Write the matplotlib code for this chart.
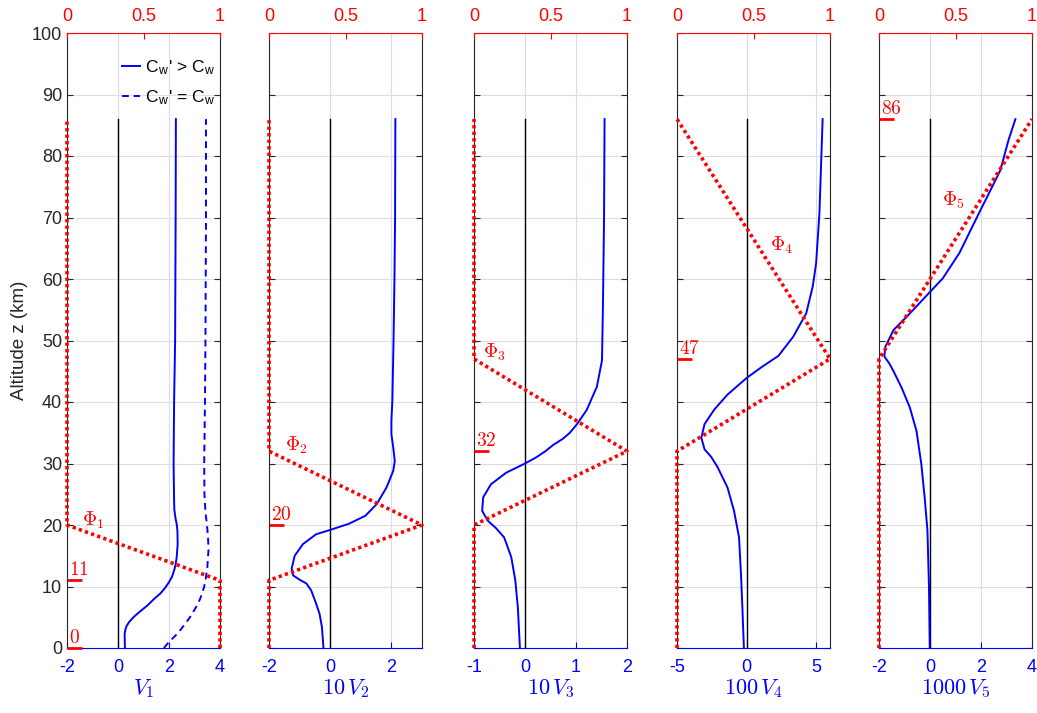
import numpy as np
import matplotlib.pyplot as plt

plt.rcParams['font.family'] = ['Liberation Sans', 'DejaVu Sans']
plt.rcParams['mathtext.fontset'] = 'cm'
plt.rcParams['axes.unicode_minus'] = False

# layer boundaries (km)
layers = [0, 11, 20, 32, 47, 86]

# panel 1: V1, Cw' > Cw (solid) and Cw' = Cw (dashed)
z1 = [0, 2.3, 3.0, 3.6, 4.3, 5.1, 6.0, 6.9, 8.0, 8.9, 9.8, 10.7, 11.6, 12.6, 13.6,
      14.7, 16.9, 19.1, 20.2, 21.2, 22.5, 24, 30, 35, 40, 50, 60, 70, 86]
v1 = [0.27, 0.26, 0.29, 0.34, 0.45, 0.63, 0.88, 1.15, 1.42, 1.67, 1.85, 2.0, 2.12, 2.2, 2.26,
      2.3, 2.34, 2.33, 2.3, 2.25, 2.21, 2.2, 2.18, 2.19, 2.2, 2.24, 2.25, 2.26, 2.27]
z1d = [0, 1, 2, 3, 4, 5, 6, 7, 8, 9, 10, 11, 13, 16, 18, 20, 22, 25, 30, 40, 50, 60, 70, 86]
v1d = [1.8, 2.0, 2.25, 2.46, 2.65, 2.82, 2.97, 3.11, 3.22, 3.31, 3.38, 3.43, 3.5, 3.55, 3.53,
       3.49, 3.43, 3.39, 3.38, 3.41, 3.43, 3.44, 3.45, 3.45]

# panel 2: 10 V2
z2 = [0, 3.4, 5.6, 7.5, 9.35, 10.5, 11.1, 11.8, 12.9, 15.0, 16.9, 18.5, 19.2, 20.2, 21.5,
      23.4, 26.1, 28.8, 30.4, 32.6, 34.8, 37, 40, 50, 60, 70, 86]
v2 = [-0.22, -0.27, -0.35, -0.48, -0.62, -0.78, -1.0, -1.21, -1.26, -1.16, -0.89, -0.46, 0.0,
      0.61, 1.15, 1.52, 1.84, 2.06, 2.11, 2.06, 2.0, 2.0, 2.03, 2.07, 2.1, 2.12, 2.13]

# panel 3: 10 V3
z3 = [0, 6.6, 11, 14.8, 18, 19.5, 20.7, 22.3, 24.5, 26.6, 28.5, 30, 31, 32, 33, 34, 35, 36.4,
      38.7, 42.5, 46.8, 56.6, 70, 86]
v3 = [-0.1, -0.14, -0.19, -0.27, -0.41, -0.57, -0.73, -0.84, -0.82, -0.67, -0.37, 0.0, 0.22,
      0.4, 0.55, 0.74, 0.88, 1.02, 1.21, 1.41, 1.51, 1.53, 1.55, 1.56]

# panel 4: 100 V4
z4 = [0, 7.2, 12, 18, 22.3, 26.1, 29.4, 31.1, 32.3, 34.2, 36.4, 38.8, 41.2, 43.9, 45.7, 47.5,
      50.6, 54.4, 58.8, 62.5, 70.7, 80, 86]
v4 = [-0.19, -0.31, -0.4, -0.54, -0.9, -1.37, -2.08, -2.55, -3.02, -3.25, -3.02, -2.31, -1.37,
      0.0, 1.1, 2.29, 3.35, 4.29, 4.76, 5.0, 5.24, 5.38, 5.47]

# panel 5: 1000 V5
z5 = [0, 9.9, 19.1, 24.5, 29.9, 35.3, 39.1, 42.3, 45, 46.3, 47.4, 49, 51.7, 54.4, 57.9, 60.1,
      64.2, 70.7, 75, 77.7, 82.6, 86]
v5 = [-0.01, -0.04, -0.1, -0.21, -0.34, -0.53, -0.79, -1.11, -1.43, -1.6, -1.79, -1.75, -1.43,
      -0.79, 0.0, 0.5, 1.15, 1.92, 2.44, 2.76, 3.08, 3.35]

zs = [z1, z2, z3, z4, z5]
vs = [v1, v2, v3, v4, v5]

# weight functions Phi_i (top axis, 0..1)
phi_z = [[0, 11, 20, 86], [0, 11, 20, 32, 86], [0, 20, 32, 47, 86], [0, 32, 47, 86], [0, 47, 86]]
phi_v = [[1, 1, 0, 0], [0, 0, 1, 0, 0], [0, 0, 1, 0, 0], [0, 0, 1, 0], [0, 0, 1]]
phi_names = [r'$\Phi_1$', r'$\Phi_2$', r'$\Phi_3$', r'$\Phi_4$', r'$\Phi_5$']
phi_pos = [(0.1, 20.8), (0.105, 33), (0.06, 48.1), (0.61, 65.5), (0.41, 72.8)]
layer_marks = [[0, 11], [20], [32], [47], [86]]

xlims = [(-2, 4), (-2, 3), (-1, 2), (-5, 6), (-2, 4)]
xticks = [[-2, 0, 2, 4], [-2, 0, 2], [-1, 0, 1, 2], [-5, 0, 5], [-2, 0, 2, 4]]
xlabels = [r'$V_1$', r'$10\,V_2$', r'$10\,V_3$', r'$100\,V_4$', r'$1000\,V_5$']

blue = (0, 0, 1)
red = (1, 0, 0)
dark = (0.15, 0.15, 0.15)

fig = plt.figure(figsize=(10.37, 7.13), dpi=100)
W, H = 1037, 713
lefts = [67, 269, 474, 677, 879]

for i in range(5):
    ax = fig.add_axes([lefts[i] / W, 65 / H, 153 / W, 615 / H])
    ax.set_xlim(*xlims[i])
    ax.set_ylim(0, 100)
    ax.set_xticks(xticks[i])
    ax.set_xticklabels([str(t) for t in xticks[i]])
    ax.set_yticks(range(0, 101, 10))
    ax.xaxis.grid(True, color=(0.85, 0.85, 1.0), lw=0.8)
    ax.yaxis.grid(True, color=(0.87, 0.87, 0.87), lw=0.8)
    ax.tick_params(axis='x', direction='in', colors=blue, labelsize=13, length=4,
                   top=True, labeltop=False, pad=8)
    ax.tick_params(axis='y', direction='in', colors=dark, labelsize=13, length=4,
                   right=True, labelleft=(i == 0))
    for s in ['left', 'right']:
        ax.spines[s].set_color(dark)
        ax.spines[s].set_linewidth(0.8)
    ax.spines['bottom'].set_color(blue)
    ax.spines['top'].set_visible(False)
    ax.set_xlabel(xlabels[i], color=blue, fontsize=16, labelpad=1)

    ax.plot([0, 0], [0, 86], color='k', lw=1)
    l1, = ax.plot(vs[i], zs[i], color=blue, lw=1.4, label="C$_\\mathregular{w}$' > C$_\\mathregular{w}$")
    if i == 0:
        l2, = ax.plot(v1d, z1d, color=blue, lw=1.4, ls=(0, (3.5, 2.5)),
                      label="C$_\\mathregular{w}$' = C$_\\mathregular{w}$")
        ax.set_ylabel('Altitude z (km)', color=dark, fontsize=13.5, labelpad=3)
        ax.legend(handles=[l1, l2], loc='upper right', bbox_to_anchor=(1.075, 0.985),
                  frameon=False, fontsize=12.5, handlelength=1.05, handletextpad=0.3,
                  labelspacing=0.65)

    ax2 = ax.twiny()
    ax2.set_xlim(0, 1)
    ax2.set_xticks([0, 0.5, 1])
    ax2.set_xticklabels(['0', '0.5', '1'])
    ax2.tick_params(axis='x', direction='in', colors=red, labelsize=13, length=4, pad=6)
    for s in ['left', 'right', 'bottom']:
        ax2.spines[s].set_visible(False)
    ax2.spines['top'].set_color(red)
    ax2.spines['top'].set_linewidth(0.8)

    ax2.plot(phi_v[i], phi_z[i], color=red, lw=2.6, ls=(0, (0.9, 0.9)), clip_on=False)
    ax2.text(phi_pos[i][0], phi_pos[i][1], phi_names[i], color=red, fontsize=14,
             ha='left', va='center')
    for zl in layer_marks[i]:
        ax2.plot([0, 0.1], [zl, zl], color=red, lw=2, clip_on=False, solid_capstyle='butt')
        ax2.text(0.01, zl + 0.8, '$%d$' % zl, color=red, fontsize=14, ha='left', va='baseline')

fig.savefig('out.png', dpi=100)
